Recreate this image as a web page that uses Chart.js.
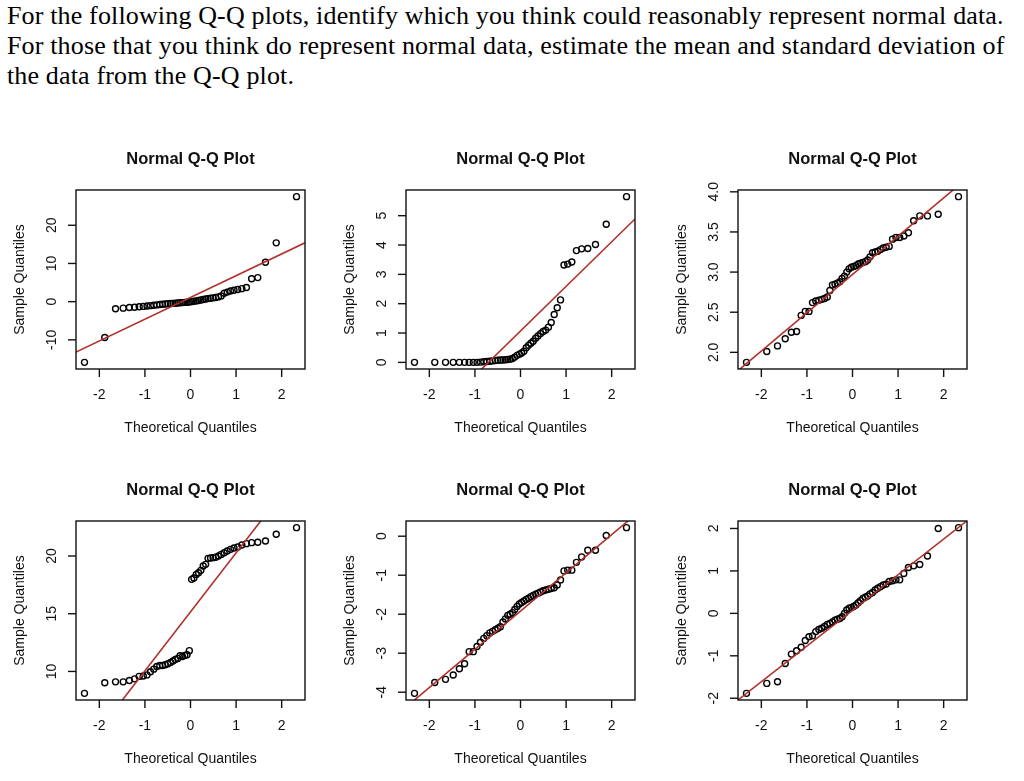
<!DOCTYPE html>
<html>
<head>
<meta charset="utf-8">
<script src="https://cdn.jsdelivr.net/npm/chart.js@4.4.0/dist/chart.umd.min.js"></script>
<style>
  html, body { margin: 0; padding: 0; background: #fff; }
  body { width: 1024px; height: 781px; position: relative; overflow: hidden; }
  #question {
    position: absolute; left: 7px; top: 1px;
    font-family: "Liberation Serif", "Times New Roman", serif;
    font-size: 26px; line-height: 30px; color: #000; white-space: nowrap;
    letter-spacing: 0.15px;
  }
  canvas { position: absolute; }
</style>
</head>
<body>
<div id="question">
  For the following Q-Q plots, identify which you think could reasonably represent normal data.<br>
  For those that you think do represent normal data, estimate the mean and standard deviation of<br>
  the data from the Q-Q plot.
</div>

<script>
// Theoretical normal quantiles for n = 50, same for every panel
const theoQ = [
  -2.326, -1.881, -1.645, -1.476, -1.341, -1.227, -1.126, -1.036, -0.954, -0.878,
  -0.806, -0.739, -0.674, -0.613, -0.553, -0.496, -0.440, -0.385, -0.332, -0.279,
  -0.228, -0.176, -0.126, -0.075, -0.025, 0.025, 0.075, 0.126, 0.176, 0.228,
  0.279, 0.332, 0.385, 0.440, 0.496, 0.553, 0.613, 0.674, 0.739, 0.806,
  0.878, 0.954, 1.036, 1.126, 1.227, 1.341, 1.476, 1.645, 1.881, 2.326
];

// Sample quantiles (sorted)
const sample1 = [
  -15.9, -9.4, -1.85, -1.7, -1.55, -1.45, -1.35, -1.25, -1.15, -1.05,
  -0.95, -0.85, -0.75, -0.7, -0.6, -0.55, -0.5, -0.45, -0.4, -0.35,
  -0.3, -0.25, -0.2, -0.15, -0.1, 0.0, 0.1, 0.2, 0.3, 0.45,
  0.55, 0.7, 0.8, 0.9, 1.0, 1.1, 1.25, 1.5, 2.2, 2.5,
  2.8, 3.0, 3.2, 3.4, 3.7, 6.0, 6.3, 10.3, 15.4, 27.5
];
const sample2 = [
  0.0, 0.0, 0.0, 0.0, 0.0, 0.0, 0.0, 0.0, 0.0, 0.01,
  0.02, 0.03, 0.04, 0.05, 0.06, 0.07, 0.08, 0.08, 0.09, 0.10,
  0.11, 0.13, 0.18, 0.24, 0.28, 0.32, 0.38, 0.5, 0.58, 0.65,
  0.72, 0.82, 0.9, 0.98, 1.05, 1.1, 1.2, 1.36, 1.63, 1.86,
  2.13, 3.32, 3.35, 3.42, 3.81, 3.87, 3.88, 4.02, 4.71, 5.65
];
const sample3 = [
  1.875, 2.01, 2.08, 2.17, 2.25, 2.26, 2.46, 2.51, 2.51, 2.62,
  2.64, 2.65, 2.66, 2.67, 2.69, 2.77, 2.84, 2.85, 2.86, 2.88,
  2.92, 2.95, 3.0, 3.04, 3.06, 3.07, 3.08, 3.10, 3.11, 3.12,
  3.13, 3.15, 3.19, 3.24, 3.25, 3.26, 3.28, 3.30, 3.31, 3.32,
  3.41, 3.43, 3.43, 3.45, 3.49, 3.64, 3.70, 3.70, 3.72, 3.94
];
const sample4 = [
  8.1, 9.02, 9.1, 9.1, 9.22, 9.36, 9.57, 9.6, 9.7, 9.97,
  10.2, 10.43, 10.52, 10.52, 10.58, 10.66, 10.78, 10.9, 11.04, 11.13,
  11.36, 11.3, 11.39, 11.45, 11.8, 17.98, 18.1, 18.4, 18.55, 18.76,
  19.13, 19.28, 19.8, 19.83, 19.86, 19.9, 20.0, 20.14, 20.29, 20.43,
  20.58, 20.7, 20.78, 20.95, 21.07, 21.16, 21.19, 21.3, 21.88, 22.46
];
const sample5 = [
  -4.03, -3.75, -3.67, -3.56, -3.40, -3.27, -2.96, -2.96, -2.83, -2.72,
  -2.62, -2.55, -2.48, -2.44, -2.40, -2.36, -2.32, -2.20, -2.12, -2.03,
  -2.00, -1.96, -1.88, -1.80, -1.74, -1.70, -1.66, -1.62, -1.59, -1.55,
  -1.52, -1.49, -1.46, -1.43, -1.40, -1.38, -1.36, -1.34, -1.32, -1.25,
  -1.12, -0.89, -0.87, -0.87, -0.67, -0.53, -0.36, -0.36, 0.02, 0.22
];
const sample6 = [
  -1.885, -1.65, -1.61, -1.18, -0.96, -0.88, -0.80, -0.64, -0.55, -0.53,
  -0.43, -0.38, -0.35, -0.31, -0.26, -0.24, -0.20, -0.16, -0.14, -0.12,
  -0.08, 0.0, 0.08, 0.12, 0.14, 0.16, 0.20, 0.25, 0.30, 0.35,
  0.38, 0.41, 0.46, 0.49, 0.55, 0.59, 0.63, 0.67, 0.69, 0.75,
  0.77, 0.79, 0.79, 0.94, 1.08, 1.12, 1.15, 1.35, 2.0, 2.02
];

// qqline of each panel
const lineIntercepts = [1.1, 1.07, 2.97, 15.16, -1.92, 0.07];
const lineSlopes = [5.7, 1.52, 0.477, 5.11, 0.98, 0.84];

// Tick labels
const xTicks = [-2, -1, 0, 1, 2];
const yTicks1 = ['-10', '0', '10', '20'];
const yTicks2 = ['0', '1', '2', '3', '4', '5'];
const yTicks3 = ['2.0', '2.5', '3.0', '3.5', '4.0'];
const yTicks4 = ['10', '15', '20'];
const yTicks5 = ['-4', '-3', '-2', '-1', '0'];
const yTicks6 = ['-2', '-1', '0', '1', '2'];

const panelTitle = 'Normal Q-Q Plot';
const xTitle = 'Theoretical Quantiles';
const yTitle = 'Sample Quantiles';

const samples = [sample1, sample2, sample3, sample4, sample5, sample6];
const yTickSets = [yTicks1, yTicks2, yTicks3, yTicks4, yTicks5, yTicks6];

const colLeft = [0, 330, 662];
const rowTop = [120, 451];
const inkColor = '#111';
const lineColor = '#b0302c';

// R-style frame, ticks and labels drawn on top of the library's scales
const rAxesPlugin = {
  id: 'rAxes',
  afterDraw(chart, args, opts) {
    const { ctx, chartArea: a, scales } = chart;
    ctx.save();
    ctx.strokeStyle = inkColor;
    ctx.fillStyle = inkColor;
    ctx.lineWidth = 1.4;
    ctx.strokeRect(a.left, a.top, a.right - a.left, a.bottom - a.top);

    ctx.font = '14px "Liberation Sans", Arial, sans-serif';
    ctx.textAlign = 'center';
    ctx.textBaseline = 'alphabetic';
    xTicks.forEach(v => {
      const px = scales.x.getPixelForValue(v);
      ctx.beginPath();
      ctx.moveTo(px, a.bottom);
      ctx.lineTo(px, a.bottom + 8);
      ctx.stroke();
      ctx.fillText(String(v), px, a.bottom + 30);
    });
    opts.yTicks.forEach(label => {
      const py = scales.y.getPixelForValue(parseFloat(label));
      ctx.beginPath();
      ctx.moveTo(a.left, py);
      ctx.lineTo(a.left - 8, py);
      ctx.stroke();
      ctx.save();
      ctx.translate(a.left - 20, py);
      ctx.rotate(-Math.PI / 2);
      ctx.fillText(label, 0, 0);
      ctx.restore();
    });

    const cx = (a.left + a.right) / 2;
    const cy = (a.top + a.bottom) / 2;
    ctx.fillText(xTitle, cx, a.bottom + 63);
    ctx.save();
    ctx.translate(a.left - 52, cy);
    ctx.rotate(-Math.PI / 2);
    ctx.fillText(yTitle, 0, 0);
    ctx.restore();

    ctx.font = 'bold 16.5px "Liberation Sans", Arial, sans-serif';
    ctx.fillText(panelTitle, cx, a.top - 26);
    ctx.restore();
  }
};

samples.forEach((sample, i) => {
  const canvas = document.createElement('canvas');
  canvas.width = 330;
  canvas.height = 330;
  canvas.style.left = colLeft[i % 3] + 'px';
  canvas.style.top = rowTop[Math.floor(i / 3)] + 'px';
  document.body.appendChild(canvas);

  // R extends the data range by 4% on each side
  const xSpan = theoQ[theoQ.length - 1] - theoQ[0];
  const xMin = theoQ[0] - 0.04 * xSpan;
  const xMax = theoQ[theoQ.length - 1] + 0.04 * xSpan;
  const yLo = Math.min(...sample);
  const yHi = Math.max(...sample);
  const ySpan = yHi - yLo;

  const points = theoQ.map((q, k) => ({ x: q, y: sample[k] }));
  const qqLine = [xMin, xMax].map(q => ({ x: q, y: lineIntercepts[i] + lineSlopes[i] * q }));

  new Chart(canvas, {
    type: 'scatter',
    data: {
      datasets: [
        {
          type: 'line',
          data: qqLine,
          borderColor: lineColor,
          borderWidth: 1.6,
          pointRadius: 0,
          order: 0
        },
        {
          data: points,
          pointRadius: 3,
          pointBorderWidth: 1.4,
          borderColor: '#000',
          backgroundColor: 'rgba(0,0,0,0)',
          order: 1
        }
      ]
    },
    options: {
      responsive: false,
      animation: false,
      events: [],
      layout: { padding: { left: 0, top: 70, right: 25, bottom: 0 } },
      plugins: {
        legend: { display: false },
        tooltip: { enabled: false },
        rAxes: { yTicks: yTickSets[i] }
      },
      scales: {
        x: {
          type: 'linear',
          min: xMin,
          max: xMax,
          bounds: 'data',
          grid: { display: false },
          border: { display: false },
          ticks: { display: false },
          afterFit: scale => { scale.height = 81; }
        },
        y: {
          type: 'linear',
          min: yLo - 0.04 * ySpan,
          max: yHi + 0.04 * ySpan,
          bounds: 'data',
          grid: { display: false },
          border: { display: false },
          ticks: { display: false },
          afterFit: scale => { scale.width = 76; }
        }
      }
    },
    plugins: [rAxesPlugin]
  });
});
</script>
</body>
</html>
